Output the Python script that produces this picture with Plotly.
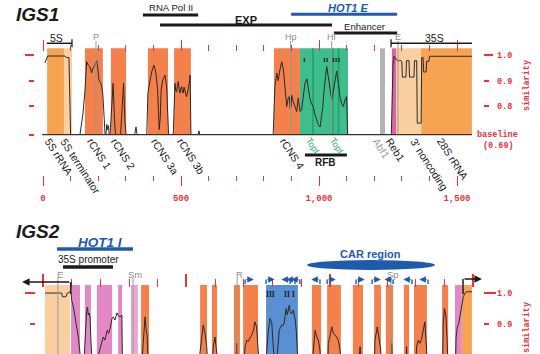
import plotly.graph_objects as go

W, H = 540, 354
SANS = "Liberation Sans"
MONO = "Liberation Mono"
RED = "#E8323C"
BLUE = "#1E5AAE"
GRAY = "#8C8C8C"
BLACK = "#1A1A1A"

# ======================= IGS1 data (bp / similarity) =======================
igs1_region_kind  = ["rRNA", "term", "rcns", "rcns", "rcns", "rcns", "rcns", "rfb", "abf1", "reb1", "term", "rRNA"]
igs1_region_start = [15, 76, 152, 246, 380, 475, 837, 931, 1221, 1264, 1279, 1370]
igs1_region_end   = [76, 105, 217, 301, 453, 536, 931, 1105, 1239, 1279, 1370, 1554]
igs1_fob_start = [975, 1047, 1068]
igs1_fob_end   = [981, 1053, 1074]
igs1_labels     = ["5S rRNA", "5S terminator", "rCNS 1", "rCNS 2", "rCNS 3a", "rCNS 3b", "rCNS 4",
                   "TopI", "TopI", "Abf1", "Reb1", "3' noncoding", "28S rRNA"]
igs1_label_pos  = [22, 80, 178, 264, 409, 504, 877, 971, 1058, 1210, 1261, 1348, 1446]
igs1_label_kind = ["n", "n", "n", "n", "n", "n", "n", "topi", "topi", "abf1", "n", "n", "n"]
igs1_sites    = ["P", "Hp", "Hi", "E"]
igs1_site_pos = [192, 897, 1046, 1286]
igs1_numerals    = ["I", "II", "III"]
igs1_numeral_pos = [949, 1025, 1062]
igs1_feat_names = ["RNA Pol II", "EXP", "HOT1 E", "Enhancer", "35S", "5S", "RFB"]
igs1_feat_start = [362, 424, 899, 1054, 1261, 14, 949]
igs1_feat_end   = [562, 1047, 1283, 1283, 1554, 105, 1101]
igs1_tick_major = [0, 500, 1000, 1500]
igs1_tick_text  = ["0", "500", "1,000", "1,500"]
igs1_tick_minor = [100, 200, 300, 400, 600, 700, 800, 900, 1100, 1200, 1300, 1400]
sim_ticks = [0.8, 0.9, 1.0]
sim_tick_text = ["0.8", "0.9", "1.0"]
baseline = 0.69

igs1_seg_x = [
    [7, 17, 40, 80, 85, 94, 100],
    [134, 145, 152, 158, 164, 170, 176, 181, 188, 195, 199, 203, 207, 213, 217, 221, 225],
    [228, 231, 234, 237, 240],
    [243, 248, 254, 259, 263],
    [281, 286, 292, 297, 301],
    [332, 337, 341],
    [376, 380, 388, 394, 402, 409, 415, 421, 425, 428, 434, 442, 448, 452, 455],
    [472, 475, 478, 481, 484, 487, 490, 493, 496, 499, 502, 505, 508, 511, 514, 517, 520, 523, 526, 530, 533, 536],
    [562, 565, 568],
    [834, 840, 847, 852, 858, 865, 871, 877, 883, 888, 892, 896, 899, 901, 906, 913, 919, 925, 931, 937,
     943, 949, 956, 960, 967, 973, 979, 985, 991, 997, 1004, 1009, 1014, 1018, 1022, 1028, 1033, 1037, 1042, 1046,
     1052, 1058, 1064, 1070, 1076, 1082, 1088, 1094, 1100, 1104],
    [1262, 1268, 1272, 1279, 1286, 1293, 1300, 1302, 1315, 1317, 1326, 1328, 1344, 1346, 1354, 1356, 1370,
     1372, 1377, 1379, 1388, 1390, 1398, 1400, 1554],
]
igs1_seg_y = [
    [0.969, 0.996, 0.996, 0.996, 0.99, 0.99, 0.69],
    [0.69, 0.774, 0.86, 0.974, 0.96, 0.954, 0.93, 0.949, 0.96, 0.978, 0.942, 0.90, 0.896, 0.877, 0.844, 0.76, 0.69],
    [0.69, 0.73, 0.71, 0.725, 0.69],
    [0.69, 0.80, 0.89, 0.75, 0.69],
    [0.69, 0.80, 0.89, 0.74, 0.69],
    [0.69, 0.72, 0.69],
    [0.69, 0.85, 0.903, 0.935, 0.961, 0.93, 0.87, 0.71, 0.76, 0.864, 0.903, 0.922, 0.877, 0.80, 0.69],
    [0.69, 0.86, 0.89, 0.86, 0.857, 0.88, 0.896, 0.87, 0.852, 0.87, 0.877, 0.86, 0.852, 0.875, 0.864, 0.85,
     0.838, 0.85, 0.864, 0.89, 0.922, 0.69],
    [0.69, 0.705, 0.69],
    [0.69, 0.877, 0.93, 0.90, 0.94, 0.974, 0.942, 0.853, 0.80, 0.83, 0.838, 0.79, 0.80, 0.844, 0.82, 0.80, 0.78,
     0.833, 0.78, 0.786, 0.84, 0.89, 0.907, 0.88, 0.83, 0.81, 0.80, 0.77, 0.75, 0.73, 0.72, 0.76, 0.80, 0.86,
     0.90, 0.955, 0.92, 0.89, 0.85, 0.825, 0.86, 0.90, 0.938, 0.89, 0.838, 0.81, 0.80, 0.825, 0.838, 0.69],
    [0.69, 0.96, 0.995, 0.985, 0.975, 0.98, 0.975, 0.914, 0.914, 0.978, 0.978, 0.914, 0.914, 0.978, 0.978,
     0.735, 0.735, 0.99, 0.99, 0.934, 0.934, 0.975, 0.975, 0.995, 0.995],
]

# ======================= IGS2 data =======================
igs2_region_kind  = ["term", "pink", "pink", "pink", "pink", "pinklt", "rcns", "rcns", "rcns", "rcns", "rcns",
                     "blue", "rcns", "rcns", "rcns", "rcns", "rcns", "rcns", "rcns", "rcns", "pink", "rRNA"]
igs2_region_start = [7, 98, 146, 188, 262, 307, 342, 548, 589, 666, 698, 778, 938, 991, 1081, 1155, 1196,
                     1259, 1294, 1392, 1437, 1461]
igs2_region_end   = [94, 129, 167, 241, 276, 331, 370, 572, 607, 687, 750, 889, 970, 1039, 1116, 1179, 1221,
                     1277, 1339, 1413, 1461, 1496]
igs2_sites    = ["E", "Sm", "R", "Sp"]
igs2_site_pos = [52, 314, 677, 1214]
igs2_numerals    = ["III", "II", "I"]
igs2_numeral_pos = [792, 851, 875]
igs2_feat_names = ["HOT1 I", "35S promoter"]
igs2_feat_start = [49, 70]
igs2_feat_end   = [314, 244]
igs2_car = [921, 1367]
igs2_tss     = [705, 778, 862, 879, 896, 966, 991, 1092, 1148, 1221, 1287, 1343]
igs2_tss_dir = [1, 1, -1, -1, -1, -1, 1, 1, 1, -1, -1, -1]
igs2_35s_tss = [97, 1465]
igs2_35s_tip = [-73, 1531]
igs2_tick_major = [0, 500, 1000, 1500]
igs2_tick_minor = [100, 200, 300, 400, 600, 700, 800, 900, 1100, 1200, 1300, 1400]

igs2_seg_x = [
    [7, 65, 68, 80, 85, 94, 98, 100, 106, 112, 118, 123, 129, 133],
    [143, 148, 152, 155, 158, 161, 164, 167, 171],
    [187, 199, 205, 210, 216, 224, 229, 234, 241, 245, 251, 258, 264, 269, 275, 277],
    [345, 356, 360, 363, 366],
    [544, 548, 553, 559, 565, 571, 574],
    [591, 594, 600, 606, 609],
    [673, 676, 679],
    [701, 705, 711, 717, 722, 728, 734, 739, 745, 750, 753],
    [778, 780, 786, 792, 798, 804, 809, 817, 821, 824, 829, 833, 837, 841, 845, 848, 852, 856, 859, 862,
     865, 869, 873, 877, 880, 884, 887, 889],
    [940, 943, 949, 955, 960, 966, 968],
    [994, 995, 1001, 1007, 1013, 1019, 1024, 1030, 1036, 1038],
    [1102, 1106, 1109],
    [1156, 1158, 1166, 1172, 1178, 1179],
    [1214, 1216, 1218],
    [1267, 1268, 1270],
    [1301, 1303, 1309, 1315, 1320, 1326, 1332, 1338, 1340],
    [1394, 1396, 1400, 1405, 1410, 1412],
    [1439, 1441, 1445, 1450, 1454, 1460, 1466, 1472, 1478, 1497],
]
igs2_seg_y = [
    [1.0, 1.0, 0.988, 0.988, 1.0, 1.004, 1.0, 0.977, 0.955, 0.923, 0.891, 0.859, 0.806, 0.78],
    [0.78, 0.90, 0.94, 0.955, 0.93, 0.935, 0.923, 0.85, 0.78],
    [0.78, 0.827, 0.84, 0.858, 0.848, 0.88, 0.87, 0.886, 0.919, 0.923, 0.913, 0.936, 0.925, 0.923, 0.929, 0.78],
    [0.78, 0.923, 0.88, 0.864, 0.78],
    [0.78, 0.816, 0.86, 0.897, 0.871, 0.827, 0.78],
    [0.78, 0.827, 0.858, 0.816, 0.78],
    [0.78, 0.838, 0.78],
    [0.78, 0.827, 0.848, 0.845, 0.855, 0.865, 0.88, 0.907, 0.891, 0.816, 0.78],
    [0.78, 0.816, 0.88, 0.918, 0.903, 0.816, 0.78, 0.80, 0.85, 0.88, 0.89, 0.897, 0.895, 0.902, 0.93, 0.95,
     0.929, 0.945, 0.961, 0.94, 0.934, 0.935, 0.945, 0.925, 0.913, 0.87, 0.816, 0.78],
    [0.78, 0.827, 0.88, 0.858, 0.848, 0.816, 0.78],
    [0.78, 0.838, 0.86, 0.891, 0.87, 0.865, 0.858, 0.848, 0.816, 0.78],
    [0.78, 0.827, 0.78],
    [0.78, 0.848, 0.891, 0.858, 0.816, 0.78],
    [0.78, 0.838, 0.78],
    [0.78, 0.827, 0.78],
    [0.78, 0.827, 0.848, 0.838, 0.85, 0.875, 0.907, 0.816, 0.78],
    [0.78, 0.902, 0.95, 0.929, 0.838, 0.78],
    [0.78, 0.858, 0.89, 0.902, 0.923, 0.955, 0.988, 1.0, 1.004, 1.004],
]

# ======================= styles =======================
COL = {"rRNA": "#F6A452", "term": "#FBCFA0", "rcns": "#F4804B", "rfb": "#3DBE8C", "abf1": "#B3B3B3",
       "reb1": "#DB62A3", "pink": "#E388C4", "pinklt": "#E9A7D2", "blue": "#5B8FD3"}
LABEL_COL = {"n": BLACK, "topi": "#2BAA6E", "abf1": "#A0A0A0"}
LABEL_SIZE = {"n": 10.5, "topi": 9, "abf1": 10.5}
BOX_TOP = 1.026
X1 = [-155.8, 1800.7]
Y1 = [-0.1634, 1.2140]
X2 = [-150.0, 1733.5]
Y2 = [0.8033, 1.9452]
REDFONT = dict(family=MONO, size=8.5, color=RED, weight="bold")


def py(p):
    return 1 - p / H


def pxp(p):
    return p / W


def join(segx, segy):
    xs, ys = [], []
    for a, b in zip(segx, segy):
        xs += list(a) + [None]
        ys += list(b) + [None]
    return xs, ys


shapes, anns = [], []

# IGS1 regions
for k, s, e in zip(igs1_region_kind, igs1_region_start, igs1_region_end):
    shapes.append(dict(type="rect", xref="x", yref="y", x0=s, x1=e, y0=baseline, y1=BOX_TOP,
                       fillcolor=COL[k], line_width=0, layer="below"))
for s, e in zip(igs1_fob_start, igs1_fob_end):
    shapes.append(dict(type="rect", xref="x", yref="y", x0=s, x1=e, y0=baseline, y1=BOX_TOP,
                       fillcolor="#25A072", line_width=0, layer="below"))
shapes.append(dict(type="line", xref="x", yref="y", x0=-3, x1=igs1_region_end[-1], y0=baseline, y1=baseline,
                   line=dict(color="#333333", width=1.2)))
for t, p in zip(igs1_sites, igs1_site_pos):
    shapes.append(dict(type="line", xref="x", yref="paper", x0=p, x1=p, y0=py(41), y1=py(133),
                       line=dict(color="#9A9A9A", width=1)))
    anns.append(dict(text=t, x=p, xref="x", y=py(37), yref="paper", showarrow=False,
                     font=dict(family=SANS, size=9, color=GRAY)))
for t, p in zip(igs1_numerals, igs1_numeral_pos):
    anns.append(dict(text="<b>%s</b>" % t, x=p, xref="x", y=py(59.5), yref="paper", showarrow=False,
                     font=dict(family="Liberation Serif", size=7, color=BLACK)))
for t, p, k in zip(igs1_labels, igs1_label_pos, igs1_label_kind):
    anns.append(dict(text=t, x=p, xref="x", y=py(136), yref="paper", xanchor="left", yanchor="top",
                     textangle=57, xshift=-7, showarrow=False, borderpad=0, borderwidth=0,
                     font=dict(family=SANS, size=LABEL_SIZE[k], color=LABEL_COL[k])))
fstyle = {
    "RNA Pol II": dict(by=15, lw=3, c=BLACK, ty=7.5, size=9.6, fmt="%s", dx=0, cap=None),
    "EXP": dict(by=25, lw=3, c=BLACK, ty=20.3, size=11, fmt="<b>%s</b>", dx=0, cap=None),
    "HOT1 E": dict(by=14.3, lw=3, c=BLUE, ty=8.5, size=11, fmt="<b><i>%s</i></b>", dx=4, cap=None),
    "Enhancer": dict(by=33, lw=3, c=BLACK, ty=26.3, size=9.6, fmt="%s", dx=-1, cap=None),
    "35S": dict(by=43.3, lw=1.5, c=BLACK, ty=38, size=10.5, fmt="%s", dx=3, cap="left"),
    "5S": dict(by=43.3, lw=1.5, c=BLACK, ty=38.5, size=10.5, fmt="%s", dx=-3, cap="right"),
    "RFB": dict(by=155, lw=3, c=BLACK, ty=162.5, size=10, fmt="<b>%s</b>", dx=0, cap=None),
}
for n, s, e in zip(igs1_feat_names, igs1_feat_start, igs1_feat_end):
    st = fstyle[n]
    shapes.append(dict(type="line", xref="x", yref="paper", x0=s, x1=e, y0=py(st["by"]), y1=py(st["by"]),
                       line=dict(color=st["c"], width=st["lw"])))
    if st["cap"]:
        cx = s if st["cap"] == "left" else e
        shapes.append(dict(type="line", xref="x", yref="paper", x0=cx, x1=cx, y0=py(st["by"] - 4),
                           y1=py(st["by"] + 4), line=dict(color=st["c"], width=1.3)))
    anns.append(dict(text=st["fmt"] % n, x=(s + e) / 2, xref="x", y=py(st["ty"]), yref="paper",
                     xshift=st["dx"], showarrow=False,
                     font=dict(family=SANS, size=st["size"], color=st["c"])))

# IGS2 regions
for k, s, e in zip(igs2_region_kind, igs2_region_start, igs2_region_end):
    shapes.append(dict(type="rect", xref="x2", yref="y2", x0=s, x1=e, y0=0.5, y1=BOX_TOP,
                       fillcolor=COL[k], line_width=0, layer="below"))
for t, p in zip(igs2_sites, igs2_site_pos):
    shapes.append(dict(type="line", xref="x2", yref="paper", x0=p, x1=p, y0=py(278), y1=0,
                       line=dict(color="#9A9A9A", width=1)))
    anns.append(dict(text=t, x=p, xref="x2", y=py(274.5), yref="paper", showarrow=False, xshift=2,
                     font=dict(family=SANS, size=9.5, color=GRAY)))
for t, p in zip(igs2_numerals, igs2_numeral_pos):
    anns.append(dict(text="<b>%s</b>" % t, x=p, xref="x2", y=py(294.5), yref="paper", showarrow=False,
                     font=dict(family="Liberation Serif", size=7.5, color=BLACK)))
f2style = {
    "HOT1 I": dict(by=249, lw=3.5, c=BLUE, ty=242.5, size=13.5, fmt="<b><i>%s</i></b>", dx=5),
    "35S promoter": dict(by=267, lw=3.5, c=BLACK, ty=259.5, size=10, fmt="%s", dx=0),
}
for n, s, e in zip(igs2_feat_names, igs2_feat_start, igs2_feat_end):
    st = f2style[n]
    shapes.append(dict(type="line", xref="x2", yref="paper", x0=s, x1=e, y0=py(st["by"]), y1=py(st["by"]),
                       line=dict(color=st["c"], width=st["lw"])))
    anns.append(dict(text=st["fmt"] % n, x=(s + e) / 2, xref="x2", y=py(st["ty"]), yref="paper",
                     xshift=st["dx"], showarrow=False,
                     font=dict(family=SANS, size=st["size"], color=st["c"])))
shapes.append(dict(type="circle", xref="x2", yref="paper", x0=igs2_car[0], x1=igs2_car[1],
                   y0=py(270), y1=py(260), fillcolor=BLUE, line_width=0))
anns.append(dict(text="<b>CAR region</b>", x=sum(igs2_car) / 2, xref="x2", y=py(254), yref="paper",
                 showarrow=False, font=dict(family=SANS, size=11, color=BLUE)))
for t, d in zip(igs2_tss, igs2_tss_dir):
    anns.append(dict(text="", x=t + d * 30, xref="x2", y=py(279.5), yref="paper", ax=t, axref="x2",
                     ay=0, ayref="pixel", showarrow=True, arrowhead=2, arrowsize=0.8, arrowwidth=1.6,
                     arrowcolor=BLUE, standoff=0))
    shapes.append(dict(type="line", xref="x2", yref="paper", x0=t, x1=t, y0=py(279.5), y1=py(284),
                       line=dict(color=BLUE, width=1.4)))
for t, tip in zip(igs2_35s_tss, igs2_35s_tip):
    yy = 282 if tip < t else 279
    anns.append(dict(text="", x=tip, xref="x2", y=py(yy), yref="paper", ax=t, axref="x2",
                     ay=0, ayref="pixel", showarrow=True, arrowhead=2, arrowsize=1, arrowwidth=1.5,
                     arrowcolor=BLACK, standoff=0))
    shapes.append(dict(type="line", xref="x2", yref="paper", x0=t, x1=t, y0=py(yy), y1=py(294),
                       line=dict(color=BLACK, width=1.5)))

anns.append(dict(text="<b><i>IGS1</i></b>", x=pxp(14), xref="paper", y=py(14.5), yref="paper",
                 xanchor="left", showarrow=False, font=dict(family=SANS, size=19, color=BLACK)))
anns.append(dict(text="<b><i>IGS2</i></b>", x=pxp(14), xref="paper", y=py(231), yref="paper",
                 xanchor="left", showarrow=False, font=dict(family=SANS, size=19, color=BLACK)))
anns.append(dict(text="baseline", x=pxp(497.5), xref="paper", y=py(135), yref="paper", showarrow=False,
                 font=REDFONT))
anns.append(dict(text="(0.69)", x=pxp(498), xref="paper", y=py(146), yref="paper", showarrow=False,
                 font=REDFONT))
for yc in (86, 328):
    anns.append(dict(text="similarity", x=pxp(527), xref="paper", y=py(yc), yref="paper", showarrow=False,
                     textangle=-90, font=REDFONT))
for a in anns:
    a.setdefault("xanchor", "center")
    a.setdefault("yanchor", "middle")

fig = go.Figure()
x1, y1 = join(igs1_seg_x, igs1_seg_y)
x2, y2 = join(igs2_seg_x, igs2_seg_y)
fig.add_trace(go.Scatter(x=x1, y=y1, mode="lines", line=dict(color="#2A2A2A", width=1), xaxis="x", yaxis="y",
                         showlegend=False, hoverinfo="skip"))
fig.add_trace(go.Scatter(x=x2, y=y2, mode="lines", line=dict(color="#2A2A2A", width=1), xaxis="x2", yaxis="y2",
                         showlegend=False, hoverinfo="skip"))
for xa, ya in [("x3", "y"), ("x4", "y"), ("x", "y3"), ("x", "y4"), ("x", "y5"), ("x", "y6")]:
    fig.add_trace(go.Scatter(x=[None], y=[None], xaxis=xa, yaxis=ya, showlegend=False, hoverinfo="skip"))

noax = dict(showgrid=False, zeroline=False, showline=False, fixedrange=True)
fig.update_layout(
    width=W, height=H, margin=dict(l=0, r=0, t=0, b=0), paper_bgcolor="white", plot_bgcolor="rgba(0,0,0,0)",
    showlegend=False, shapes=shapes, annotations=anns,
    xaxis=dict(range=X1, domain=[0, 1], anchor="free", position=py(175), side="bottom",
               tickmode="array", tickvals=igs1_tick_major, ticktext=igs1_tick_text, ticks="outside",
               ticklen=10, tickwidth=1.3, tickcolor=RED, ticklabelstandoff=4,
               tickfont=dict(family=MONO, size=9, color=RED, weight="bold"),
               minor=dict(tickmode="array", tickvals=igs1_tick_minor, ticks="outside", ticklen=5,
                          tickwidth=1, tickcolor=RED), **noax),
    xaxis3=dict(range=X1, overlaying="x", anchor="free", position=py(51), side="top",
                tickmode="array", tickvals=igs1_tick_major, ticks="outside", ticklen=11, tickwidth=1.3,
                tickcolor=RED, showticklabels=False,
                minor=dict(tickmode="array", tickvals=igs1_tick_minor, ticks="outside", ticklen=6,
                           tickwidth=1, tickcolor=RED), **noax),
    xaxis2=dict(range=X2, overlaying="x", anchor="y2", showticklabels=False, ticks="", **noax),
    xaxis4=dict(range=X2, overlaying="x", anchor="free", position=py(287), side="top",
                tickmode="array", tickvals=igs2_tick_major, ticks="outside", ticklen=13, tickwidth=1.5,
                tickcolor=RED, showticklabels=False,
                minor=dict(tickmode="array", tickvals=igs2_tick_minor, ticks="outside", ticklen=8,
                           tickwidth=1.3, tickcolor=RED), **noax),
    yaxis=dict(range=Y1, domain=[0, 1], anchor="free", position=pxp(484), side="right",
               tickmode="array", tickvals=sim_ticks, ticktext=sim_tick_text, ticks="",
               ticklabelstandoff=12, tickfont=REDFONT, **noax),
    yaxis3=dict(range=Y1, overlaying="y", anchor="free", position=pxp(483), side="right",
                tickmode="array", tickvals=[1.0], ticks="outside", ticklen=9, tickwidth=1.5, tickcolor=RED,
                showticklabels=False,
                minor=dict(tickmode="array", tickvals=[0.9, 0.8], ticks="outside", ticklen=5,
                           tickwidth=1.5, tickcolor=RED), **noax),
    yaxis5=dict(range=Y1, overlaying="y", anchor="free", position=pxp(34), side="left",
                tickmode="array", tickvals=[1.0], ticks="outside", ticklen=9, tickwidth=1.5, tickcolor=RED,
                showticklabels=False,
                minor=dict(tickmode="array", tickvals=[0.9, 0.8, baseline], ticks="outside", ticklen=5,
                           tickwidth=1.5, tickcolor=RED), **noax),
    yaxis2=dict(range=Y2, overlaying="y", anchor="free", position=pxp(484), side="right",
                tickmode="array", tickvals=sim_ticks, ticktext=sim_tick_text, ticks="",
                ticklabelstandoff=12, tickfont=REDFONT, **noax),
    yaxis4=dict(range=Y2, overlaying="y", anchor="free", position=pxp(483), side="right",
                tickmode="array", tickvals=[1.0], ticks="outside", ticklen=12, tickwidth=1.8, tickcolor=RED,
                showticklabels=False,
                minor=dict(tickmode="array", tickvals=[0.9], ticks="outside", ticklen=5,
                           tickwidth=1.8, tickcolor=RED), **noax),
    yaxis6=dict(range=Y2, overlaying="y", anchor="free", position=pxp(35), side="left",
                tickmode="array", tickvals=[1.0], ticks="outside", ticklen=10, tickwidth=1.8, tickcolor=RED,
                showticklabels=False,
                minor=dict(tickmode="array", tickvals=[0.9], ticks="outside", ticklen=5,
                           tickwidth=1.8, tickcolor=RED), **noax),
)
fig.write_html("out.html")
